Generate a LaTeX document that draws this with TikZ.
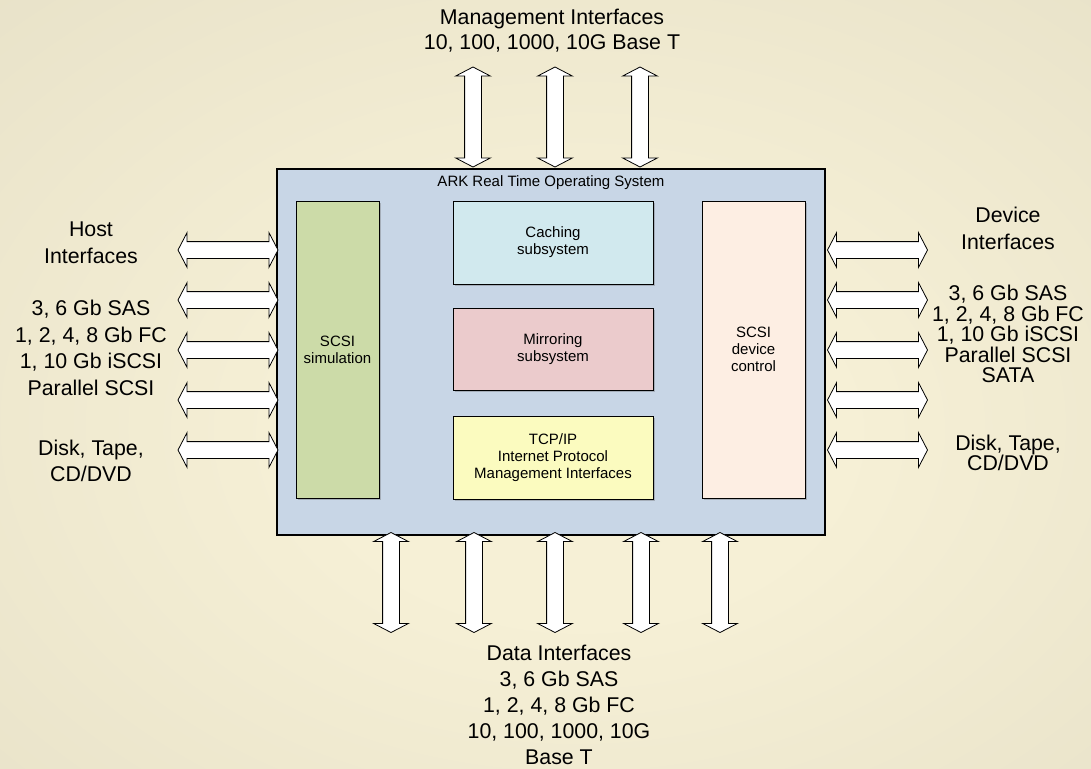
\documentclass[tikz,border=0pt]{standalone}
\usepackage{fontspec}
\setmainfont{Liberation Sans}
\usetikzlibrary{shapes.arrows,shadows}

\definecolor{bgcentre}{HTML}{F6F0D6}
\definecolor{bgmid}{HTML}{E2DCC3}
\definecolor{bgedge}{HTML}{C4C0AB}
\definecolor{osblue}{HTML}{C8D6E6}
\definecolor{simgreen}{HTML}{CCDBA8}
\definecolor{cachecyan}{HTML}{D1E9EE}
\definecolor{mirrorpink}{HTML}{EBCBCC}
\definecolor{tcpyellow}{HTML}{FBFBBF}
\definecolor{devpeach}{HTML}{FDEEE3}

\pgfdeclareradialshading{bgglow}{\pgfpoint{2bp}{-4bp}}{color(0bp)=(bgcentre); color(12bp)=(bgcentre); color(50bp)=(bgmid); color(71bp)=(bgedge)}

\begin{document}
\begin{tikzpicture}[x=0.75pt,y=-0.75pt,
  subbox/.style={draw=black, line width=0.6pt, inner sep=0pt, align=center,
    font={\fontsize{11.25pt}{12.75pt}\selectfont},
    drop shadow={shadow xshift=1.2pt, shadow yshift=-1.2pt, opacity=.35, fill=black!60}},
  label/.style={inner sep=0pt, align=center, font={\fontsize{16pt}{19.9pt}\selectfont}},
  blockarrow/.style={shape=double arrow, draw=black, fill=white, line width=0.6pt,
    inner xsep=0pt, inner ysep=6pt, double arrow head extend=6.75pt,
    double arrow tip angle=125, double arrow head indent=0pt, minimum height=75pt},
  vblockarrow/.style={blockarrow, rotate=90}]

% background
\shade[shading=bgglow] (0,0) rectangle (1091,768);
\useasboundingbox (0,0) rectangle (1091,768);

% operating system and its parts
\node[draw=black, line width=1pt, fill=osblue, minimum width=411pt, minimum height=274.5pt] (ark) at (551,352) {};
\node[inner sep=0pt, font={\fontsize{11.25pt}{12.75pt}\selectfont}] (arktitle) at (551,183) {ARK Real Time Operating System};
\node[subbox, fill=simgreen, minimum width=62.25pt, minimum height=222.75pt] (sim) at (337.5,349.5) {SCSI\\simulation};
\node[subbox, fill=cachecyan, minimum width=150pt, minimum height=62.25pt] (cache) at (553,242.5) {Caching\\subsystem};
\node[subbox, fill=mirrorpink, minimum width=150pt, minimum height=61.5pt] (mirror) at (553,349) {Mirroring\\subsystem};
\node[subbox, fill=tcpyellow, minimum width=150pt, minimum height=62.25pt] (tcp) at (553,457.5) {TCP/IP\\Internet Protocol\\Management Interfaces};
\node[subbox, fill=devpeach, minimum width=77.25pt, minimum height=222.75pt] (devctl) at (753.5,349.5) {SCSI\\device\\control};

% host side
\node[label] (hostname) at (91,243) {Host\\Interfaces};
\node[label] (hostlinks) at (91,348) {3, 6 Gb SAS\\1, 2, 4, 8 Gb FC\\1, 10 Gb iSCSI\\Parallel SCSI};
\node[label] (hostmedia) at (91,461) {Disk, Tape,\\CD/DVD};
\node[blockarrow] (hostA) at (228,250) {};
\node[blockarrow] (hostB) at (228,300) {};
\node[blockarrow] (hostC) at (228,350) {};
\node[blockarrow] (hostD) at (228,400) {};
\node[blockarrow] (hostE) at (228,450) {};

% device side
\node[label, font={\fontsize{16pt}{20.25pt}\selectfont}] (devname) at (1008,228.5) {Device\\Interfaces};
\node[label, font={\fontsize{16pt}{15.4pt}\selectfont}] (devlinks) at (1008,334) {3, 6 Gb SAS\\1, 2, 4, 8 Gb FC\\1, 10 Gb iSCSI\\Parallel SCSI\\SATA};
\node[label, font={\fontsize{16pt}{15.4pt}\selectfont}] (devmedia) at (1008,453) {Disk, Tape,\\CD/DVD};
\node[blockarrow] (devA) at (877.5,250) {};
\node[blockarrow] (devB) at (877.5,300) {};
\node[blockarrow] (devC) at (877.5,350) {};
\node[blockarrow] (devD) at (877.5,400) {};
\node[blockarrow] (devE) at (877.5,450) {};

% management side
\node[label, font={\fontsize{16pt}{18.75pt}\selectfont}] (mgmt) at (552,30.5) {Management Interfaces\\10, 100, 1000, 10G Base T};
\node[vblockarrow] (mgmtA) at (473,117) {};
\node[vblockarrow] (mgmtB) at (555,117) {};
\node[vblockarrow] (mgmtC) at (640,117) {};

% data side
\node[label, font={\fontsize{16pt}{19.5pt}\selectfont}] (data) at (559,704.5) {Data Interfaces\\3, 6 Gb SAS\\1, 2, 4, 8 Gb FC\\10, 100, 1000, 10G\\Base T};
\node[vblockarrow] (dataA) at (391,582.5) {};
\node[vblockarrow] (dataB) at (474,582.5) {};
\node[vblockarrow] (dataC) at (555,582.5) {};
\node[vblockarrow] (dataD) at (641,582.5) {};
\node[vblockarrow] (dataE) at (720,582.5) {};
\end{tikzpicture}
\end{document}
